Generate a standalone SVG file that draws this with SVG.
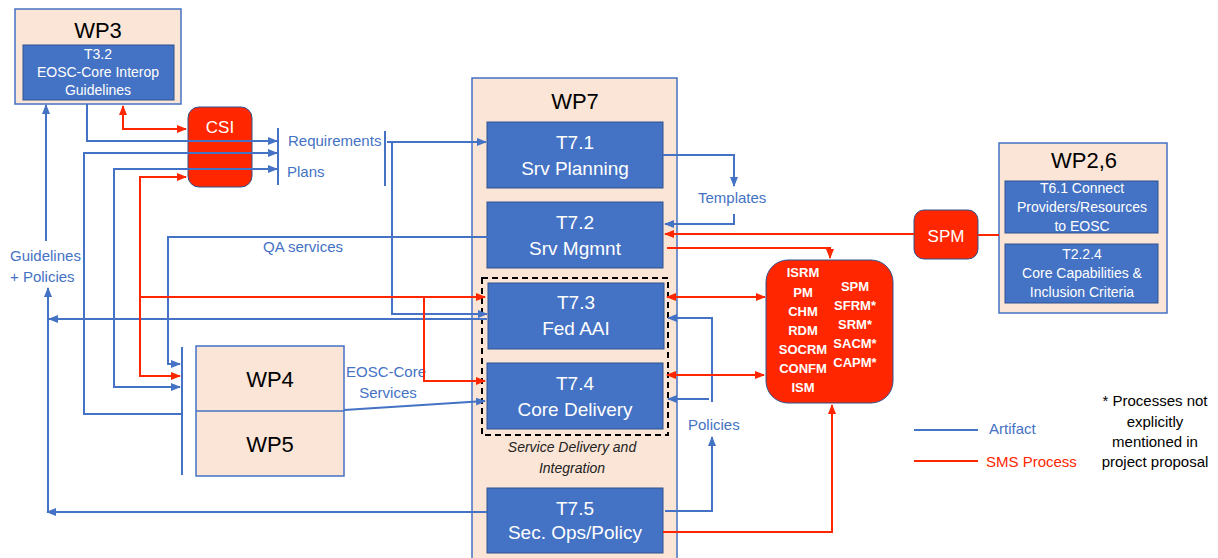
<svg xmlns="http://www.w3.org/2000/svg" width="1218" height="558" viewBox="0 0 1218 558">
<defs>
<style>
text{font-family:"Liberation Sans",Arial,sans-serif}
.wp{fill:#fbe5d6;stroke:#4472c4;stroke-width:1.5}
.task{fill:#4472c4;stroke:#2f528f;stroke-width:1}
.proc{fill:#ff2600;stroke:#2f528f;stroke-width:1}
.wpt{font-size:22px;fill:#000;text-anchor:middle}
.tt{font-size:19px;fill:#fff;text-anchor:middle}
.ts{font-size:14px;fill:#fff;text-anchor:middle}
.pt{font-size:13px;font-weight:bold;fill:#fff;text-anchor:middle}
.lbl{font-size:15px;fill:#4472c4}
.b{fill:none;stroke:#4472c4;stroke-width:2}
.r{fill:none;stroke:#ff2600;stroke-width:2}
.ab{marker-end:url(#ab)}
.ar{marker-end:url(#ar)}
.ar2{marker-start:url(#ar);marker-end:url(#ar)}
.ab2{marker-start:url(#ab);marker-end:url(#ab)}
</style>
<marker id="ab" markerUnits="userSpaceOnUse" markerWidth="10" markerHeight="8" refX="9" refY="4" orient="auto-start-reverse"><path d="M0,0 L10,4 L0,8 z" fill="#4472c4"/></marker>
<marker id="ar" markerUnits="userSpaceOnUse" markerWidth="10" markerHeight="8" refX="9" refY="4" orient="auto-start-reverse"><path d="M0,0 L10,4 L0,8 z" fill="#ff2600"/></marker>
</defs>
<rect width="1218" height="558" fill="#fff"/>

<g id="wp3">
<rect class="wp" x="15" y="9" width="166" height="95"/>
<text class="wpt" x="98" y="38">WP3</text>
<rect class="task" x="23" y="45" width="151" height="55"/>
<text class="ts" x="98" y="59" font-size="13.5">T3.2</text>
<text class="ts" x="98" y="77">EOSC-Core Interop</text>
<text class="ts" x="98" y="95">Guidelines</text>
</g>

<g id="csi">
<rect class="proc" x="188" y="107" width="64" height="80" rx="11"/>
<text x="220" y="133" font-size="17" fill="#fff" text-anchor="middle">CSI</text>
</g>

<g id="wp45">
<rect class="wp" x="196" y="346" width="148" height="130"/>
<line x1="196" y1="411" x2="344" y2="411" stroke="#4472c4" stroke-width="1.5"/>
<text class="wpt" x="270" y="387">WP4</text>
<text class="wpt" x="270" y="452">WP5</text>
</g>

<g id="wp7">
<rect class="wp" x="472" y="78" width="205" height="490"/>
<text class="wpt" x="575" y="109">WP7</text>
<g id="t71"><rect class="task" x="487" y="122" width="176" height="66"/>
<text class="tt" x="575" y="149">T7.1</text><text class="tt" x="575" y="175">Srv Planning</text></g>
<g id="t72"><rect class="task" x="487" y="202" width="176" height="66"/>
<text class="tt" x="575" y="229">T7.2</text><text class="tt" x="575" y="255">Srv Mgmnt</text></g>
<g id="t73"><rect class="task" x="488" y="283" width="176" height="66"/>
<text class="tt" x="576" y="309">T7.3</text><text class="tt" x="576" y="335">Fed AAI</text></g>
<g id="t74"><rect class="task" x="487" y="363" width="176" height="66"/>
<text class="tt" x="575" y="390">T7.4</text><text class="tt" x="575" y="416">Core Delivery</text></g>
<g id="sdi"><rect x="482" y="278" width="186" height="157" fill="none" stroke="#000" stroke-width="2" stroke-dasharray="6,4"/>
<text x="572" y="452" font-size="14" font-style="italic" fill="#222" text-anchor="middle">Service Delivery and</text>
<text x="572" y="473" font-size="14" font-style="italic" fill="#222" text-anchor="middle">Integration</text></g>
<g id="t75"><rect class="task" x="487" y="488" width="176" height="65"/>
<text class="tt" x="575" y="515">T7.5</text><text class="tt" x="575" y="539">Sec. Ops/Policy</text></g>
</g>

<g id="procs">
<rect class="proc" x="766" y="260" width="127" height="143" rx="22"/>
<text class="pt" x="803" y="277">ISRM</text>
<text class="pt" x="803" y="297">PM</text>
<text class="pt" x="803" y="316">CHM</text>
<text class="pt" x="803" y="335">RDM</text>
<text class="pt" x="803" y="354">SOCRM</text>
<text class="pt" x="803" y="373">CONFM</text>
<text class="pt" x="803" y="392">ISM</text>
<text class="pt" x="855" y="291">SPM</text>
<text class="pt" x="855" y="310">SFRM*</text>
<text class="pt" x="855" y="329">SRM*</text>
<text class="pt" x="855" y="348">SACM*</text>
<text class="pt" x="855" y="367">CAPM*</text>
</g>

<g id="spm">
<rect class="proc" x="914" y="210" width="64" height="49" rx="10"/>
<text x="946" y="242" font-size="17" fill="#fff" text-anchor="middle">SPM</text>
</g>

<g id="wp26">
<rect class="wp" x="999" y="143" width="168" height="170"/>
<text class="wpt" x="1084" y="168" font-size="23">WP2,6</text>
<rect class="task" x="1005" y="181" width="153" height="52"/>
<text class="ts" x="1082" y="193">T6.1 Connect</text>
<text class="ts" x="1082" y="212">Providers/Resources</text>
<text class="ts" x="1082" y="231">to EOSC</text>
<rect class="task" x="1005" y="244" width="153" height="59"/>
<text class="ts" x="1082" y="259">T2.2.4</text>
<text class="ts" x="1082" y="278">Core Capabilities &amp;</text>
<text class="ts" x="1082" y="297">Inclusion Criteria</text>
</g>

<g id="labels">
<text class="lbl" x="288" y="146">Requirements</text>
<text class="lbl" x="287" y="177">Plans</text>
<text class="lbl" x="263" y="252">QA services</text>
<text class="lbl" x="10" y="261">Guidelines</text>
<text class="lbl" x="10" y="282">+ Policies</text>
<text class="lbl" x="386" y="377" text-anchor="middle">EOSC-Core</text>
<text class="lbl" x="388" y="398" text-anchor="middle">Services</text>
<text class="lbl" x="698" y="203">Templates</text>
<text class="lbl" x="688" y="430">Policies</text>
</g>

<g id="connectors">
<line class="b" x1="278" y1="128" x2="278" y2="185"/>
<line class="b" x1="385" y1="131" x2="385" y2="186"/>
<line class="b" x1="182" y1="347" x2="182" y2="475"/>
<path class="b ab" d="M87,104 V141 H277"/>
<path class="b ab" d="M182,414 H84 V153 H277"/>
<path class="b ab2" d="M277,169 H114 V387 H180"/>
<path class="b ab" d="M46,241 V105"/>
<path class="b ab" d="M48,512 V288"/>
<path class="b ab" d="M487,319 H49"/>
<path class="b ab" d="M487,512 H47"/>
<path class="b ab" d="M387,142 H486"/>
<path class="b ab" d="M392,142 V314 H487"/>
<path class="b ab" d="M488,237 H168 V364 H180"/>
<path class="b ab" d="M344,410 L485,401"/>
<path class="b ab" d="M663,155 H734 V186"/>
<path class="b ab" d="M734,214 V224 H665"/>
<path class="b ab" d="M712,402 V318 H668"/>
<path class="b ab" d="M709,399 H668"/>
<path class="b ab" d="M665,511 H712 V437"/>
<path class="r ar2" d="M186,129 H123 V106"/>
<path class="r ar2" d="M186,177 H140 V376 H180"/>
<path class="r ar" d="M140,297 H485"/>
<path class="r ar" d="M424,297 V381 H485"/>
<path class="r ar" d="M914,234 H665"/>
<path class="r ar" d="M667,248 H830 V258"/>
<path class="r" d="M978,235 H999"/>
<path class="r ar2" d="M667,297 H765"/>
<path class="r ar2" d="M667,375 H764"/>
<path class="r ar" d="M663,532 H832 V405"/>
</g>

<g id="legend">
<line class="b" x1="914" y1="430" x2="978" y2="430"/>
<text class="lbl" x="989" y="434">Artifact</text>
<line class="r" x1="914" y1="461" x2="978" y2="461"/>
<text x="986" y="467" font-size="15" fill="#ff2600">SMS Process</text>
<g font-size="15" fill="#000" text-anchor="middle">
<text x="1155" y="406">* Processes not</text>
<text x="1155" y="427">explicitly</text>
<text x="1155" y="447">mentioned in</text>
<text x="1155" y="467">project proposal</text>
</g>
</g>
</svg>
